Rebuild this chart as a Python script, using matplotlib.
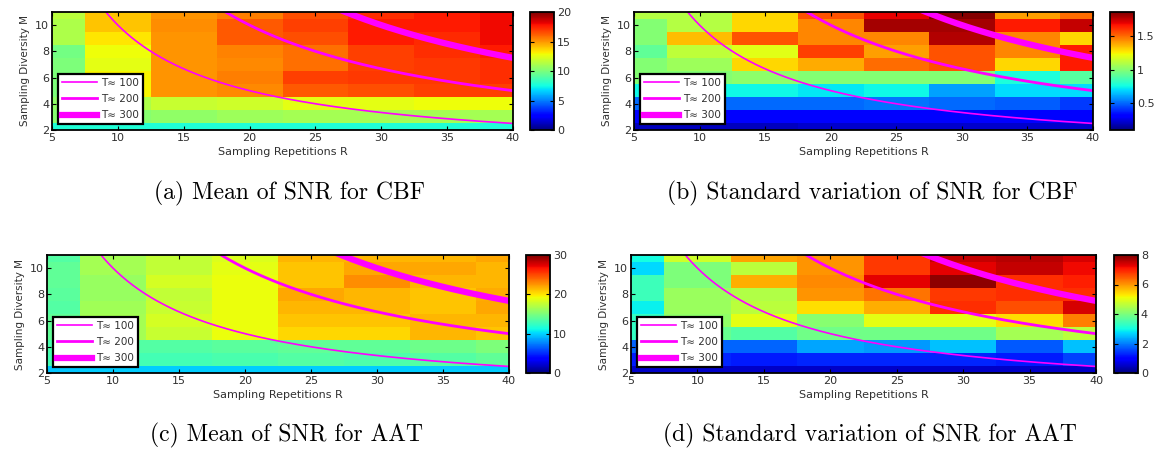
import numpy as np
import matplotlib
matplotlib.use("Agg")
import matplotlib.pyplot as plt

plt.rcParams['font.family'] = ['DejaVu Sans']

R_vals = [5, 10, 15, 20, 25, 30, 35, 40]
M_vals = [2, 3, 4, 5, 6, 7, 8, 9, 10, 11]
T_levels = [100, 200, 300]
T_labels = ["T\u2248 100", "T\u2248 200", "T\u2248 300"]

# rows: M = 2..11, columns: R = 5..40
mean_cbf = [
    [7.8, 7.8, 7.8, 7.8, 7.8, 7.8, 7.8, 7.8],
    [10.3, 10.3, 10.5, 10.8, 11.0, 11.0, 11.0, 11.0],
    [10.5, 11.2, 11.8, 12.0, 12.5, 12.5, 12.8, 12.8],
    [10.0, 13.0, 15.0, 15.3, 16.3, 16.5, 16.8, 16.8],
    [10.0, 13.0, 15.0, 15.5, 16.8, 17.0, 17.0, 17.2],
    [10.0, 12.5, 15.0, 15.3, 15.8, 16.8, 17.0, 17.2],
    [9.8, 12.8, 15.0, 15.4, 15.8, 16.8, 17.2, 17.6],
    [11.2, 13.3, 15.0, 16.3, 16.5, 17.6, 17.3, 18.0],
    [11.2, 14.0, 15.2, 16.3, 16.8, 17.6, 17.6, 18.0],
    [11.5, 14.0, 15.0, 15.5, 16.5, 17.2, 17.6, 18.0],
]
std_cbf = [
    [0.20, 0.20, 0.20, 0.22, 0.22, 0.22, 0.22, 0.22],
    [0.30, 0.30, 0.30, 0.30, 0.30, 0.30, 0.30, 0.30],
    [0.50, 0.50, 0.50, 0.50, 0.52, 0.50, 0.48, 0.42],
    [0.75, 0.75, 0.75, 0.72, 0.75, 0.60, 0.70, 0.70],
    [1.00, 1.00, 1.02, 1.00, 1.00, 1.00, 0.78, 0.90],
    [1.00, 1.05, 1.30, 1.38, 1.50, 1.55, 1.30, 1.65],
    [0.92, 1.12, 1.20, 1.58, 1.40, 1.55, 1.45, 1.65],
    [1.00, 1.35, 1.55, 1.45, 1.45, 1.78, 1.45, 1.30],
    [1.00, 1.10, 1.30, 1.45, 1.80, 1.80, 1.65, 1.75],
    [1.10, 1.10, 1.30, 1.55, 1.70, 1.85, 1.40, 1.50],
]
mean_aat = [
    [9.5, 9.8, 9.8, 9.8, 9.8, 9.8, 9.8, 9.8],
    [13.0, 13.0, 13.0, 13.2, 13.5, 13.3, 13.5, 14.0],
    [13.2, 13.5, 13.5, 13.8, 14.0, 14.0, 14.5, 15.0],
    [14.0, 16.5, 17.8, 19.0, 20.5, 20.5, 21.5, 21.0],
    [14.0, 16.5, 18.2, 19.0, 21.0, 21.0, 21.5, 21.5],
    [13.5, 16.3, 17.8, 19.0, 21.5, 21.5, 21.0, 22.0],
    [13.8, 16.0, 17.5, 19.0, 22.0, 21.5, 21.0, 21.8],
    [14.0, 16.0, 18.2, 19.0, 21.0, 22.8, 21.5, 21.5],
    [14.0, 16.5, 17.5, 18.8, 21.0, 22.0, 22.0, 21.5],
    [13.5, 16.5, 17.5, 18.5, 21.5, 21.5, 21.5, 22.0],
]
std_aat = [
    [0.5, 0.5, 0.5, 0.5, 0.5, 0.5, 0.5, 0.5],
    [1.2, 1.3, 1.2, 1.3, 1.3, 1.3, 1.2, 1.5],
    [1.8, 1.8, 1.8, 2.3, 2.2, 2.5, 1.7, 2.5],
    [3.3, 3.8, 3.6, 3.9, 3.9, 3.9, 4.4, 4.6],
    [3.3, 4.2, 5.0, 4.1, 5.0, 5.0, 5.4, 6.2],
    [2.9, 4.3, 4.6, 5.4, 5.8, 6.9, 6.6, 7.4],
    [3.4, 4.3, 4.5, 6.0, 6.3, 6.8, 6.9, 6.9],
    [3.4, 4.0, 5.8, 6.1, 7.3, 7.9, 6.9, 7.0],
    [2.7, 4.0, 4.6, 6.0, 6.8, 7.3, 7.5, 7.2],
    [3.0, 4.8, 5.9, 6.0, 6.8, 7.5, 7.6, 7.4],
]

captions = ["(a) Mean of SNR for CBF",
            "(b) Standard variation of SNR for CBF",
            "(c) Mean of SNR for AAT",
            "(d) Standard variation of SNR for AAT"]
datasets = [mean_cbf, std_cbf, mean_aat, std_aat]
clims = [(0, 20), (0.1, 1.86), (0, 30), (0, 8)]
cticks = [[0, 5, 10, 15, 20], [0.5, 1, 1.5], [0, 10, 20, 30], [0, 2, 4, 6, 8]]
cticklabels = [None, ["0.5", "1", "1.5"], None, None]

W, H = 1161, 451
fig = plt.figure(figsize=(W / 100, H / 100), dpi=100)

# pixel boxes: (ax_left, ax_right, top, bottom, cb_left, cb_right)
boxes = [
    (52, 513, 12, 130, 530, 554),
    (634, 1093, 12, 130, 1110, 1134),
    (47, 509, 255, 373, 526, 550),
    (631, 1096, 255, 373, 1114, 1138),
]
cap_pos = [(289, 193), (872, 193), (286, 435), (870, 435)]


def fbox(l, r, t, b):
    return [l / W, 1 - b / H, (r - l) / W, (b - t) / H]


R_arr = np.array(R_vals, dtype=float)
M_arr = np.array(M_vals, dtype=float)
R_edges = np.concatenate([R_arr - 2.5, [R_arr[-1] + 2.5]])
M_edges = np.concatenate([M_arr - 0.5, [M_arr[-1] + 0.5]])
Rc = np.linspace(5, 40, 400)
lws = [1.2, 2.0, 4.5]
tick_col = '#303030'

for i, data in enumerate(datasets):
    l, r, t, b, cl, cr = boxes[i]
    ax = fig.add_axes(fbox(l, r, t, b))
    Z = np.array(data)
    mesh = ax.pcolormesh(R_edges, M_edges, Z, cmap='jet',
                         vmin=clims[i][0], vmax=clims[i][1], shading='flat')
    for T, lab, lw in zip(T_levels, T_labels, lws):
        ax.plot(Rc, T / Rc, color='#ff00ff', lw=lw, label=lab)
    ax.set_xlim(5, 40)
    ax.set_ylim(2, 11)
    ax.set_xticks(range(5, 41, 5))
    ax.set_yticks([2, 4, 6, 8, 10])
    ax.tick_params(direction='in', top=True, right=True, labelsize=8,
                   length=3, width=0.8, colors='black', labelcolor=tick_col, pad=2)
    for s in ax.spines.values():
        s.set_linewidth(1.3)
    ax.set_xlabel("Sampling Repetitions R", fontsize=8, color=tick_col, labelpad=3)
    ax.set_ylabel("Sampling Diversity M", fontsize=7.5, color=tick_col, labelpad=4)
    leg = ax.legend(loc='lower left', bbox_to_anchor=(0.008, 0.03), fontsize=7.5,
                    handlelength=3.4, borderpad=0.4, labelspacing=0.6,
                    handletextpad=0.35, fancybox=False, framealpha=1,
                    edgecolor='black', borderaxespad=0.2)
    leg.get_frame().set_linewidth(1.6)
    for txt in leg.get_texts():
        txt.set_color(tick_col)

    cax = fig.add_axes(fbox(cl, cr, t, b))
    cb = fig.colorbar(mesh, cax=cax, ticks=cticks[i])
    if cticklabels[i] is not None:
        cb.set_ticklabels(cticklabels[i])
    cax.tick_params(direction='in', labelsize=8, length=3, width=0.8,
                    labelcolor=tick_col, pad=2, left=True)
    cb.outline.set_linewidth(1.3)

    cx, cy = cap_pos[i]
    fig.text(cx / W, 1 - cy / H, captions[i], ha='center', va='center',
             fontsize=17, family='cmr10')

fig.savefig("out.png", dpi=100)
